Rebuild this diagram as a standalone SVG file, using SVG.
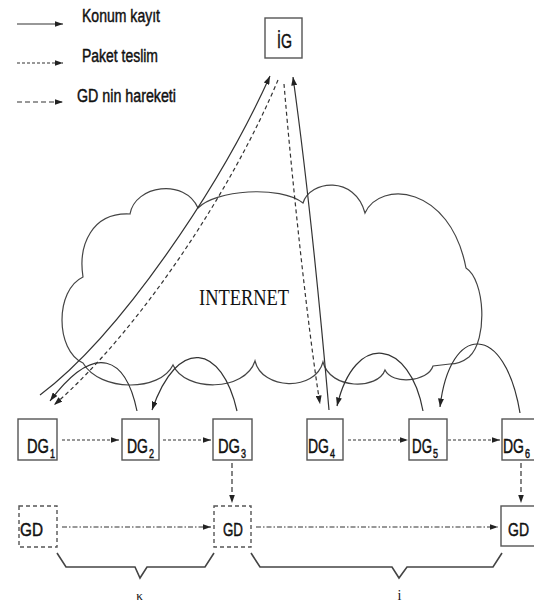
<svg xmlns="http://www.w3.org/2000/svg" width="534" height="606" viewBox="0 0 534 606">
<style>
.bg{fill:#ffffff}
.box{fill:#ffffff;stroke:#555;stroke-width:1.4}
.dbox{fill:#ffffff;stroke:#555;stroke-width:1.4;stroke-dasharray:4 3}
.t{font-family:"Liberation Sans Narrow","Liberation Sans",Arial,sans-serif;fill:#111;stroke:#111;stroke-width:0.45}
.s{font-family:"Liberation Serif","Times New Roman",serif;fill:#111}
.ln{fill:none;stroke:#333;stroke-width:1.2}
.solid{marker-end:url(#ah)}
.dot{stroke-dasharray:3 2;marker-end:url(#ah)}
.dash{stroke-dasharray:4 3;marker-end:url(#ah)}
.mv{stroke-dasharray:5 3;marker-end:url(#ah)}
.dd{stroke-dasharray:5 2 1.5 2;marker-end:url(#ah)}
.cloud{fill:none;stroke:#444;stroke-width:1.2}
.brace{fill:none;stroke:#444;stroke-width:1.6}
</style>
<defs>
<marker id="ah" viewBox="0 0 10 7" refX="10" refY="3.5" markerWidth="8.5" markerHeight="6" markerUnits="userSpaceOnUse" orient="auto">
<path d="M0,0 L10,3.5 L0,7 z" fill="#222"/>
</marker>
</defs>
<rect class="bg" x="0" y="0" width="534" height="606"/>

<g id="legend">
<path class="ln solid" d="M17,24 L63,24"/>
<text class="t" x="82" y="22" font-size="18" textLength="78" lengthAdjust="spacingAndGlyphs">Konum kayıt</text>
<path class="ln dot" d="M17,63 L63,63"/>
<text class="t" x="82" y="62" font-size="18" textLength="76" lengthAdjust="spacingAndGlyphs">Paket teslim</text>
<path class="ln mv" d="M17,102 L63,102"/>
<text class="t" x="77" y="102" font-size="18" textLength="99" lengthAdjust="spacingAndGlyphs">GD nin hareketi</text>
</g>

<g id="internet">
<path class="cloud" d="M83,277 C78,245 92,212 130,214 C135,185 185,178 198,208 C215,190 280,185 303,203 C310,180 355,175 365,213 C380,180 450,185 466,268 C485,280 488,340 469,357 Q460,364 450,364 L433,366 C428,382 392,385 385,370 C378,390 330,390 323,362 C315,392 262,390 255,361 C245,392 185,392 173,365 C160,392 100,392 83,363 C55,350 55,290 83,277 Z"/>
<text class="s" x="199" y="305" font-size="24" textLength="90" lengthAdjust="spacingAndGlyphs">INTERNET</text>
</g>

<g id="IG">
<rect class="box" x="265" y="18" width="37" height="40"/>
<text class="t" x="277" y="48" font-size="20" textLength="15" lengthAdjust="spacingAndGlyphs">İG</text>
</g>

<g id="DG1">
<rect class="box" x="18" y="419" width="39" height="41"/>
<text class="t" x="27" y="453" font-size="20" textLength="22" lengthAdjust="spacingAndGlyphs">DG</text>
<text class="t" x="50" y="458" font-size="12" textLength="5" lengthAdjust="spacingAndGlyphs">1</text>
</g>
<g id="DG2">
<rect class="box" x="122" y="419" width="37" height="41"/>
<text class="t" x="127" y="453" font-size="20" textLength="21" lengthAdjust="spacingAndGlyphs">DG</text>
<text class="t" x="149" y="458" font-size="12" textLength="5" lengthAdjust="spacingAndGlyphs">2</text>
</g>
<g id="DG3">
<rect class="box" x="213" y="419" width="39" height="41"/>
<text class="t" x="218" y="453" font-size="20" textLength="22" lengthAdjust="spacingAndGlyphs">DG</text>
<text class="t" x="241" y="458" font-size="12" textLength="5" lengthAdjust="spacingAndGlyphs">3</text>
</g>
<g id="DG4">
<rect class="box" x="307" y="419" width="36" height="41"/>
<text class="t" x="308" y="453" font-size="20" textLength="21" lengthAdjust="spacingAndGlyphs">DG</text>
<text class="t" x="330" y="458" font-size="12" textLength="5" lengthAdjust="spacingAndGlyphs">4</text>
</g>
<g id="DG5">
<rect class="box" x="409" y="419" width="38" height="41"/>
<text class="t" x="412" y="453" font-size="20" textLength="20" lengthAdjust="spacingAndGlyphs">DG</text>
<text class="t" x="433" y="458" font-size="12" textLength="5" lengthAdjust="spacingAndGlyphs">5</text>
</g>
<g id="DG6">
<rect class="box" x="502" y="419" width="38" height="41"/>
<text class="t" x="503" y="453" font-size="20" textLength="21" lengthAdjust="spacingAndGlyphs">DG</text>
<text class="t" x="525" y="458" font-size="12" textLength="5" lengthAdjust="spacingAndGlyphs">6</text>
</g>

<g id="GD1">
<rect class="dbox" x="19" y="506" width="38" height="41"/>
<text class="t" x="20" y="536" font-size="18" textLength="23" lengthAdjust="spacingAndGlyphs">GD</text>
</g>
<g id="GD2">
<rect class="dbox" x="214" y="506" width="37" height="41"/>
<text class="t" x="223" y="536" font-size="18" textLength="20" lengthAdjust="spacingAndGlyphs">GD</text>
</g>
<g id="GD3">
<rect class="box" x="501" y="506" width="38" height="40"/>
<text class="t" x="508" y="536" font-size="18" textLength="21" lengthAdjust="spacingAndGlyphs">GD</text>
</g>

<g id="connectors">
<path class="ln solid" d="M40,395 C120,335 220,187 270,76"/>
<path class="ln dash" d="M278,80 C232,190 140,330 54,405"/>
<path class="ln dash" d="M284,84 C292,180 308,330 320,404"/>
<path class="ln solid" d="M329,410 C322,330 310,200 293,77"/>
<path class="ln solid" d="M137,411 C126,358 96,340 50,401"/>
<path class="ln solid" d="M237,411 C222,345 178,335 152,410"/>
<path class="ln solid" d="M423,411 C410,340 355,330 337,406"/>
<path class="ln solid" d="M520,413 C505,322 450,322 440,407"/>
<path class="ln dot" d="M62,440 L119,440"/>
<path class="ln dot" d="M163,440 L211,440"/>
<path class="ln dot" d="M348,440 L408,440"/>
<path class="ln dot" d="M448,440 L500,440"/>
<path class="ln mv" d="M232,463 L232,503"/>
<path class="ln mv" d="M521,463 L521,503"/>
<path class="ln dd" d="M62,527 L211,527"/>
<path class="ln dd" d="M256,527 L498,527"/>
</g>

<g id="braces">
<path class="brace" d="M57,553 L66,567 L135,567 L140,578 L147,567 L205,567 L214,553"/>
<path class="brace" d="M251,553 L260,567 L392,567 L399,578 L407,567 L493,567 L502,553"/>
<text class="s" x="139.5" y="600" font-size="13" text-anchor="middle">κ</text>
<text class="s" x="399.5" y="600" font-size="14" text-anchor="middle">i</text>
</g>
</svg>
